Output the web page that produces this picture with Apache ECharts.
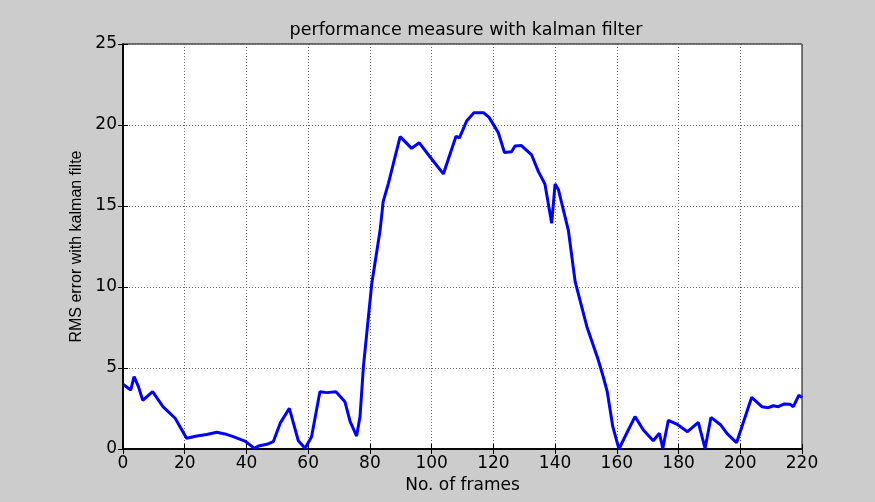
<!DOCTYPE html>
<html><head><meta charset="utf-8">
<script src="https://cdn.jsdelivr.net/npm/echarts@6/dist/echarts.min.js"></script>
<style>html,body{margin:0;padding:0;background:#cccccc;}#c{width:875px;height:502px;}</style>
</head><body><div id="c"></div>
<script>
const frames = [0,2.5,3.6,5,6.4,9.6,13,16.9,20.6,23.9,27.1,30.4,33,35.7,39.5,42.6,43.9,46.6,48.7,50.9,53.9,56.8,59,61.1,63.8,66,69,71.9,73.6,75.7,76.8,77.9,80.6,83.3,84.3,86,89.8,93.5,96,100,103.8,107.9,109,111.4,113.7,116.8,118.6,121.6,123.6,125.9,127,129,132.4,134.6,136.7,138.9,140,141.1,144.3,146.5,150.3,154,155.6,156.9,158.7,160.7,163.2,165.9,168.6,171.8,173.8,174.9,176.7,179.4,182.9,186.4,188.6,190.5,193.7,195.8,198.8,203.7,207,209.1,210.7,212.3,214.3,216.1,217.2,219,220];
const rmsError = [4.0,3.64,4.47,3.85,3.0,3.54,2.6,1.9,0.66,0.8,0.9,1.03,0.93,0.76,0.49,0.04,0.18,0.29,0.45,1.58,2.51,0.51,0.04,0.76,3.54,3.48,3.54,2.92,1.69,0.8,2.0,5.08,10.2,13.5,15.27,16.4,19.28,18.56,18.9,17.9,16.98,19.3,19.2,20.27,20.76,20.76,20.47,19.53,18.3,18.35,18.7,18.74,18.15,17.12,16.36,13.93,16.36,16.0,13.5,10.33,7.55,5.49,4.46,3.54,1.38,0.0,0.97,2.0,1.17,0.51,0.97,0.04,1.77,1.54,1.07,1.65,0.04,1.95,1.48,0.93,0.39,3.19,2.61,2.55,2.67,2.61,2.78,2.76,2.61,3.33,3.17];
const xTicks = [0,20,40,60,80,100,120,140,160,180,200,220];
const yTicks = [0,5,10,15,20,25];

const chart = echarts.init(document.getElementById('c'));
const wide = 'DejaVu Sans, sans-serif';
const narrow = 'Liberation Sans, Arial, sans-serif';
const gridLine = {show:true, lineStyle:{color:'#666', type:[1,2], width:1}};
chart.setOption({
  backgroundColor:'#cccccc',
  animation:false,
  title:{text:'performance measure with kalman filter', left:461, top:16, textAlign:'center',
    textStyle:{fontFamily:wide, fontSize:17.5, fontWeight:'normal', color:'#000'}},
  grid:{left:123, right:73, top:44, bottom:53, show:true, backgroundColor:'#ffffff', borderColor:'#000', borderWidth:1},
  xAxis:[{type:'value', min:0, max:220, interval:20, position:'bottom',
      name:'No. of frames', nameLocation:'middle', nameGap:26,
      nameTextStyle:{fontFamily:wide, fontSize:17, color:'#000'},
      axisLine:{show:true, lineStyle:{color:'#000', width:1.5}},
      axisTick:{show:true, inside:true, length:5, lineStyle:{color:'#000'}},
      axisLabel:{fontFamily:wide, fontSize:17, color:'#000', margin:6,
        formatter:v=>xTicks.includes(v)?String(v):''},
      splitLine:gridLine},
    {type:'value', min:0, max:220, interval:20, position:'top',
      axisLine:{show:true, lineStyle:{color:'#000', width:1.5}},
      axisTick:{show:true, inside:true, length:5, lineStyle:{color:'#000'}},
      axisLabel:{show:false}, splitLine:{show:false}}],
  yAxis:[{type:'value', min:0, max:25, interval:5, position:'left',
      name:'RMS error with kalman filte', nameLocation:'middle', nameGap:36, nameRotate:90,
      nameTextStyle:{fontFamily:narrow, fontSize:16, color:'#000'},
      axisLine:{show:true, lineStyle:{color:'#000', width:1.5}},
      axisTick:{show:true, inside:true, length:5, lineStyle:{color:'#000'}},
      axisLabel:{fontFamily:wide, fontSize:17, color:'#000', margin:6,
        formatter:v=>yTicks.includes(v)?String(v):''},
      splitLine:gridLine},
    {type:'value', min:0, max:25, interval:5, position:'right',
      axisLine:{show:true, lineStyle:{color:'#000', width:1.5}},
      axisTick:{show:true, inside:true, length:5, lineStyle:{color:'#000'}},
      axisLabel:{show:false}, splitLine:{show:false}}],
  series:[{type:'line', xAxisIndex:0, yAxisIndex:0, showSymbol:false, symbol:'none',
    lineStyle:{color:'#0000ff', width:3}, data: frames.map((f,i)=>[f, rmsError[i]])}]
});
</script></body></html>
